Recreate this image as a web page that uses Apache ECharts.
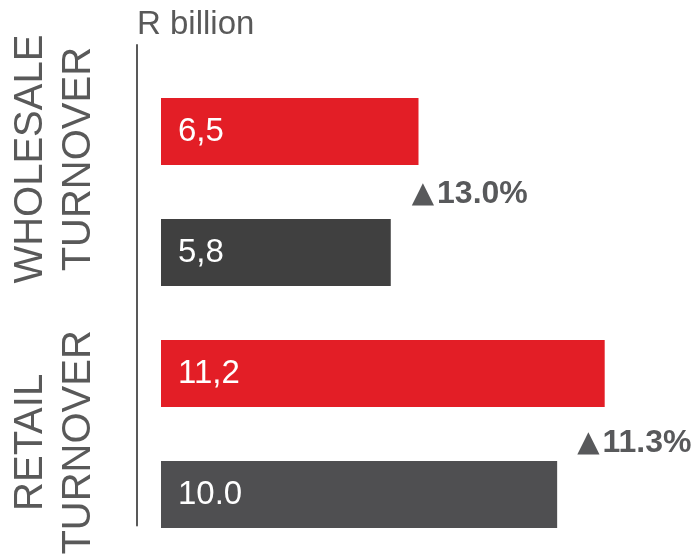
<!DOCTYPE html>
<html>
<head>
<meta charset="utf-8">
<script src="https://cdn.jsdelivr.net/npm/echarts@6/dist/echarts.min.js"></script>
<style>
  html, body { margin: 0; padding: 0; background: #ffffff; }
  #chart { width: 695px; height: 557px; }
</style>
</head>
<body>
<div id="chart"></div>
<script>
// Turnover values, one bar per period within each sector
const barCategories = ['Wholesale current', 'Wholesale prior', 'Retail current', 'Retail prior'];
const barValues = [6.5, 5.8, 11.2, 10.0];
const barLabels = ['6,5', '5,8', '11,2', '10.0'];
const barColors = ['#E31E26', '#404040', '#E31E26', '#4F4F51'];

// Sector names along the vertical axis
const groupLabels = ['WHOLESALE\nTURNOVER', 'RETAIL\nTURNOVER'];

// Year-on-year growth, shown beside the prior-period bar of each sector
const growthMarker = '▲';
const growthLabels = ['13.0%', '11.3%'];
const growthAnchors = [1, 3];

const unitLabel = 'R billion';

const FONT = "'Liberation Sans', Arial, sans-serif";
const GREY = '#595959';

const chart = echarts.init(document.getElementById('chart'), null, { renderer: 'canvas' });

const groupRich = {
  g0: { fontFamily: FONT, fontSize: 40, lineHeight: 48, color: GREY, padding: [0, 0, 0, 12] },
  g1: { fontFamily: FONT, fontSize: 40, lineHeight: 48, color: GREY, padding: [0, 74, 0, 0] }
};

const growthOffsets = [[21, -58], [20, -51]];

chart.setOption({
  animation: false,
  title: {
    text: unitLabel,
    left: 132,
    top: 3,
    textStyle: { fontFamily: FONT, fontSize: 33, fontWeight: 'normal', color: GREY }
  },
  grid: [
    { left: 161, right: 19, top: 71, bottom: 2 },
    { left: 137, right: 19, top: 45, bottom: 29 }
  ],
  xAxis: [
    { gridIndex: 0, type: 'value', min: 0, max: 13, show: false },
    { gridIndex: 1, type: 'value', min: 0, max: 13, show: false }
  ],
  yAxis: [
    {
      gridIndex: 0,
      type: 'category',
      inverse: true,
      data: barCategories,
      show: false
    },
    {
      gridIndex: 1,
      type: 'category',
      inverse: true,
      data: groupLabels,
      axisLine: { show: true, lineStyle: { color: GREY, width: 2 } },
      axisTick: { show: false },
      splitLine: { show: false },
      axisLabel: {
        rotate: 90,
        margin: 34,
        interval: 0,
        formatter: (v, i) => `{g${i}|${v}}`,
        rich: groupRich
      }
    }
  ],
  series: [
    {
      type: 'bar',
      xAxisIndex: 0,
      yAxisIndex: 0,
      barWidth: 67,
      data: barValues.map((v, i) => ({ value: v, itemStyle: { color: barColors[i] } })),
      label: {
        show: true,
        position: 'insideLeft',
        distance: 17,
        color: '#ffffff',
        fontFamily: FONT,
        fontSize: 33,
        formatter: p => barLabels[p.dataIndex]
      },
      markPoint: {
        symbol: 'circle',
        symbolSize: 0,
        silent: true,
        data: growthLabels.map((t, k) => ({
          name: t,
          coord: [barValues[growthAnchors[k]], barCategories[growthAnchors[k]]],
          label: { offset: growthOffsets[k] }
        })),
        label: {
          show: true,
          position: 'right',
          distance: 0,
          formatter: p => `{t|${growthMarker}}{v|${p.name}}`,
          rich: {
            t: { fontFamily: "'DejaVu Sans', sans-serif", fontSize: 29, color: '#58595B' },
            v: { fontFamily: FONT, fontSize: 32, fontWeight: 'bold', color: '#58595B', padding: [0, 0, 0, 3] }
          }
        }
      }
    }
  ]
});
</script>
</body>
</html>
